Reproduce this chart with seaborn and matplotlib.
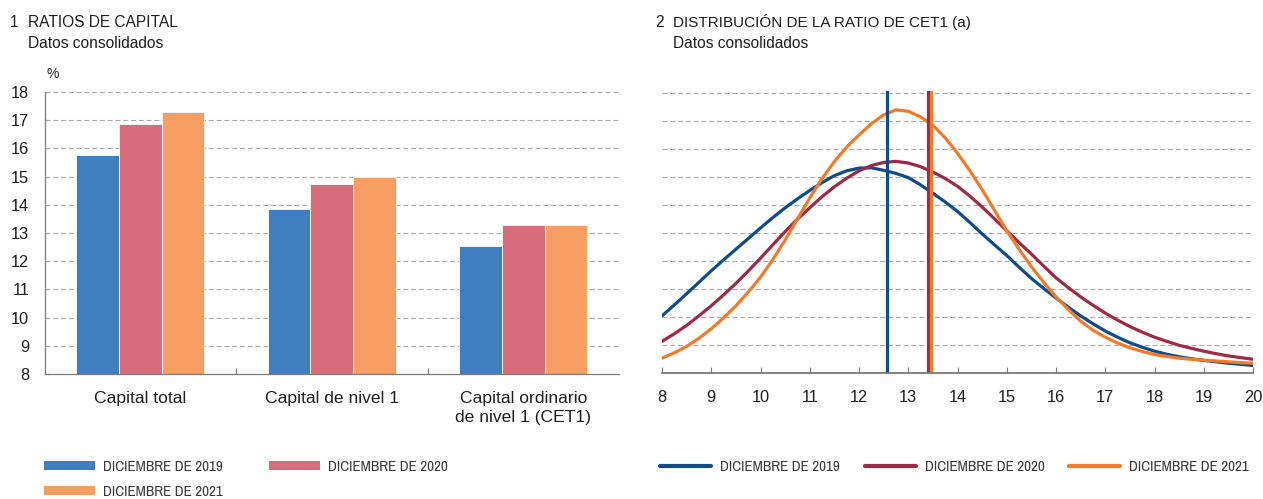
import matplotlib
matplotlib.use("Agg")
import matplotlib.pyplot as plt
from matplotlib.lines import Line2D
from matplotlib.patches import Patch
import seaborn as sns
import pandas as pd

# ---------------------------------------------------------------- data
categorias = ["Capital total", "Capital de nivel 1", "Capital ordinario\nde nivel 1 (CET1)"]
periodos = ["DICIEMBRE DE 2019", "DICIEMBRE DE 2020", "DICIEMBRE DE 2021"]
ratio_2019 = [15.75, 13.85, 12.55]
ratio_2020 = [16.85, 14.75, 13.28]
ratio_2021 = [17.30, 15.00, 13.28]

# CET1 distribution (density, arbitrary units) at these ratio levels
cet1_x = [8, 8.25, 8.5, 8.75, 9, 9.25, 9.5, 9.75, 10, 10.25, 10.5, 10.75,
          11, 11.25, 11.5, 11.75, 12, 12.25, 12.5, 12.75, 13, 13.25, 13.5, 13.75,
          14, 14.25, 14.5, 14.75, 15, 15.25, 15.5, 15.75, 16, 16.25, 16.5, 16.75,
          17, 17.25, 17.5, 17.75, 18, 18.25, 18.5, 18.75, 19, 19.25, 19.5, 19.75, 20]
dens_2019 = [2.04, 2.43, 2.83, 3.24, 3.65, 4.04, 4.42, 4.80, 5.18, 5.55, 5.90, 6.22,
             6.52, 6.80, 7.05, 7.22, 7.32, 7.33, 7.24, 7.13, 6.98, 6.72, 6.42, 6.11,
             5.77, 5.38, 4.97, 4.58, 4.20, 3.78, 3.38, 3.02, 2.68, 2.35, 2.04, 1.76,
             1.50, 1.28, 1.08, 0.92, 0.78, 0.67, 0.58, 0.51, 0.45, 0.40, 0.35, 0.31, 0.27]
dens_2020 = [1.13, 1.40, 1.70, 2.04, 2.40, 2.79, 3.20, 3.64, 4.10, 4.58, 5.05, 5.50,
             5.90, 6.30, 6.65, 6.96, 7.22, 7.41, 7.52, 7.56, 7.50, 7.37, 7.18, 6.95,
             6.67, 6.32, 5.93, 5.51, 5.08, 4.66, 4.25, 3.82, 3.40, 3.05, 2.72, 2.42,
             2.14, 1.89, 1.66, 1.46, 1.28, 1.13, 0.99, 0.88, 0.78, 0.69, 0.61, 0.55, 0.49]
dens_2021 = [0.53, 0.72, 0.95, 1.24, 1.58, 1.97, 2.40, 2.89, 3.42, 4.05, 4.75, 5.50,
             6.25, 6.95, 7.55, 8.07, 8.50, 8.90, 9.22, 9.40, 9.35, 9.15, 8.85, 8.40,
             7.85, 7.23, 6.55, 5.82, 5.08, 4.42, 3.80, 3.24, 2.72, 2.27, 1.85, 1.53,
             1.28, 1.07, 0.90, 0.77, 0.66, 0.59, 0.53, 0.49, 0.46, 0.43, 0.40, 0.37, 0.35]
# central value of each distribution (vertical markers)
cet1_centro = [12.56, 13.40, 13.46]

x_ticks = [8, 9, 10, 11, 12, 13, 14, 15, 16, 17, 18, 19, 20]
y_ticks = [8, 9, 10, 11, 12, 13, 14, 15, 16, 17, 18]

# ---------------------------------------------------------------- style
sns.set_theme(style="white")
plt.rcParams["font.family"] = ["Liberation Sans", "DejaVu Sans"]
NARROW = ["Archivo Narrow", "Liberation Sans", "DejaVu Sans"]

bar_colors = ["#3f7fc1", "#d76c7c", "#f79e62"]
line_colors = ["#0f4c8a", "#9e2a45", "#f47a2a"]
grid_kw = dict(color="#ababab", linewidth=0.8, linestyle=(0, (4.5, 2.5)))
spine_color = "#7a7a7a"
text_color = "#1f1f1f"

W, H = 1263, 499
fig = plt.figure(figsize=(W / 100, H / 100), dpi=100)


def box(x0, y_top, x1, y_bot):
    return [x0 / W, 1 - y_bot / H, (x1 - x0) / W, (y_bot - y_top) / H]


# ---------------------------------------------------------------- panel 1
ax1 = fig.add_axes(box(44.5, 92, 619, 374))
df_bar = pd.DataFrame({
    "categoria": categorias * 3,
    "periodo": [periodos[0]] * 3 + [periodos[1]] * 3 + [periodos[2]] * 3,
    "valor": ratio_2019 + ratio_2020 + ratio_2021,
})
sns.barplot(data=df_bar, x="categoria", y="valor", hue="periodo",
            palette=bar_colors, saturation=1, width=0.67, gap=0,
            edgecolor="#f4f4f4", linewidth=0.7, legend=False, ax=ax1, zorder=3)
ax1.set_xlim(-0.5, 2.5)
ax1.set_ylim(8, 18)
ax1.set_yticks(y_ticks)
for v in y_ticks[1:]:
    ax1.axhline(v, zorder=1, **grid_kw)
ax1.set_xlabel("")
ax1.set_ylabel("")
ax1.tick_params(axis="y", direction="in", length=3, width=0.8, color=spine_color,
                pad=11, labelsize=11.8, labelcolor=text_color, left=True)
ax1.tick_params(axis="x", which="major", length=0, pad=12, labelsize=12.6,
                labelcolor=text_color)
for lab in ax1.get_xticklabels():
    lab.set_linespacing(1.4)
ax1.set_xticks([0.5, 1.5], minor=True)
ax1.tick_params(axis="x", which="minor", direction="in", length=4, width=0.8,
                color=spine_color, bottom=True)
for s in ["top", "right"]:
    ax1.spines[s].set_visible(False)
for s in ["left", "bottom"]:
    ax1.spines[s].set_color(spine_color)
    ax1.spines[s].set_linewidth(0.9)
    ax1.spines[s].set_zorder(4)

fig.text(53 / W, 1 - 78 / H, "%", ha="center", va="baseline", fontsize=10,
         color=text_color)

# ---------------------------------------------------------------- panel 2
ax2 = fig.add_axes(box(662, 90.8, 1253, 373))
n = len(cet1_x)
df_line = pd.DataFrame({
    "x": cet1_x * 3,
    "densidad": dens_2019 + dens_2020 + dens_2021,
    "periodo": [periodos[0]] * n + [periodos[1]] * n + [periodos[2]] * n,
})
sns.lineplot(data=df_line, x="x", y="densidad", hue="periodo", palette=line_colors,
             linewidth=2.3, legend=False, sort=False, ax=ax2, zorder=3)
for v, c in zip(cet1_centro, line_colors):
    ax2.axvline(v, color=c, linewidth=2.3, zorder=4)
ax2.set_xlim(8, 20)
ax2.set_ylim(0, 10.08)
for v in range(1, 11):
    ax2.axhline(v, zorder=1, **grid_kw)
ax2.set_xticks(x_ticks)
ax2.set_yticks([])
ax2.set_xlabel("")
ax2.set_ylabel("")
ax2.tick_params(axis="x", direction="in", length=4, width=0.8, color=spine_color,
                pad=12, labelsize=11.8, labelcolor=text_color, bottom=True)
for s in ["top", "right", "left"]:
    ax2.spines[s].set_visible(False)
ax2.spines["bottom"].set_color(spine_color)
ax2.spines["bottom"].set_linewidth(1.3)
ax2.spines["bottom"].set_zorder(5)

# ---------------------------------------------------------------- titles
title_kw = dict(fontsize=11.2, color=text_color, va="baseline")
fig.text(10 / W, 1 - 27 / H, "1", **title_kw)
fig.text(28 / W, 1 - 27 / H, "RATIOS DE CAPITAL", **title_kw)
fig.text(28 / W, 1 - 48 / H, "Datos consolidados", **title_kw)
fig.text(655 / W, 1 - 27 / H, "2", **title_kw)
t2 = fig.text(673 / W, 1 - 27 / H, "DISTRIBUCIÓN DE LA RATIO DE CET1",
              fontsize=11, color=text_color, va="baseline")
fig.text(673 / W, 1 - 48 / H, "Datos consolidados", **title_kw)
# footnote marker placed just after the second title
fig.canvas.draw()
t2_end = t2.get_window_extent().x1
fig.text((t2_end + 4) / W, 1 - 27 / H, "(a)", fontsize=11, color=text_color,
         va="baseline")

# ---------------------------------------------------------------- legends
leg_kw = dict(loc="center left", frameon=False, borderpad=0, borderaxespad=0,
              handletextpad=0.55, labelcolor="#3a3a3a",
              prop={"family": NARROW, "size": 10.9})
bar_slots = [(44, 467), (269, 467), (44, 492)]
for c, lab, (px, py) in zip(bar_colors, periodos, bar_slots):
    fig.legend([Patch(facecolor=c, edgecolor="none")], [lab],
               bbox_to_anchor=(px / W, 1 - py / H), handlelength=3.35,
               handleheight=0.6, **leg_kw)
line_slots = [(660, 467), (865, 467), (1069, 467)]
for c, lab, (px, py) in zip(line_colors, periodos, line_slots):
    fig.legend([Line2D([], [], color=c, linewidth=3)], [lab],
               bbox_to_anchor=(px / W, 1 - py / H), handlelength=3.4, **leg_kw)

fig.savefig("out.png", dpi=100, facecolor="white")
